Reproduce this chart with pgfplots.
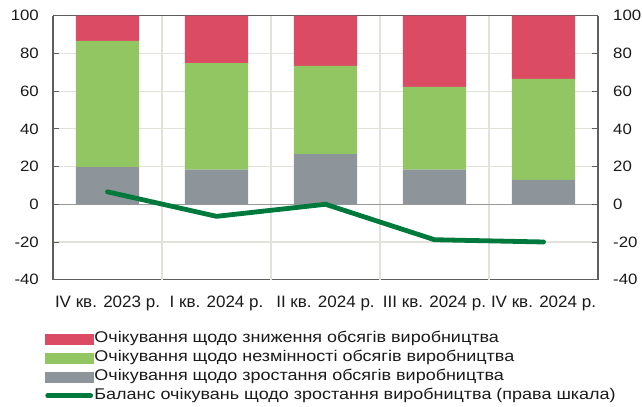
\documentclass[border=0pt]{standalone}
\usepackage{fontspec}
\setmainfont{Liberation Sans}
\newfontfamily\ytfont{Liberation Sans}[FakeStretch=1.12]
\newfontfamily\xtfont{Liberation Sans}[FakeStretch=1.03]
\newfontfamily\legfont{Liberation Sans}[FakeStretch=1.16]
\usepackage{pgfplots}
\pgfplotsset{compat=1.18}
\definecolor{cred}{HTML}{DC4B64}
\definecolor{cgreen}{HTML}{92C663}
\definecolor{cgray}{HTML}{8D959B}
\definecolor{cline}{HTML}{00793D}
\definecolor{cgrid}{HTML}{E2E2DA}
\definecolor{cframe}{HTML}{5E5E5E}
\definecolor{ctext}{HTML}{1A1A1A}
\begin{document}
\begin{tikzpicture}
\pgfplotsset{
  common/.style={
    scale only axis, width=545pt, height=264pt,
    at={(0,0)}, anchor=south west,
    xmin=-0.5, xmax=4.5, ymin=-40, ymax=100,
    ytick={-40,-20,...,100},
    yticklabel style={font=\ytfont\fontsize{15}{18}\selectfont, text=ctext, inner sep=0pt},
    /pgf/number format/assume math mode=true,
    axis line style={cframe, line width=1.3pt},
    major tick length=6pt,
    ytick style={cframe, line width=0.9pt},
  }
}
\begin{axis}[
  common,
  axis y line*=left,
  yticklabel style={anchor=east, xshift=-14pt},
  xtick={0,...,4},
  xticklabels={IV кв. 2023 р., I кв. 2024 р., II кв. 2024 р., III кв. 2024 р., IV кв. 2024 р.},
  major x tick style={draw=none},
  xticklabel style={font=\xtfont\fontsize{16.5}{18}\selectfont, text=ctext, anchor=north, inner sep=0pt, yshift=-16pt},
  extra x ticks={0.5,1.5,2.5,3.5},
  extra x tick labels={},
  extra x tick style={grid=major, major tick length=0pt},
  ymajorgrids,
  major grid style={cgrid, line width=1.2pt},
  extra y ticks={0},
  extra y tick labels={},
  extra y tick style={grid=major, major grid style={draw=gray!80, line width=1.2pt}},
  ybar stacked, bar width=0.58,
  legend style={draw=none, fill=none, at={(0,0)}, anchor=north west,
    xshift=-8pt, yshift=-50pt, inner sep=0pt, outer sep=0pt,
    font=\legfont\fontsize{15.5}{18}\selectfont, text=ctext,
    nodes={inner sep=1pt, text height=12pt, text depth=4pt},
    row sep=1pt, legend cell align=left},
]
\addlegendimage{legend image code/.code={\fill[cred] (0pt,-5pt) rectangle (48pt,5pt);}}
\addlegendentry{Очікування щодо зниження обсягів виробництва}
\addlegendimage{legend image code/.code={\fill[cgreen] (0pt,-5pt) rectangle (48pt,5pt);}}
\addlegendentry{Очікування щодо незмінності обсягів виробництва}
\addlegendimage{legend image code/.code={\fill[cgray] (0pt,-5pt) rectangle (48pt,5pt);}}
\addlegendentry{Очікування щодо зростання обсягів виробництва}
\addlegendimage{legend image code/.code={\draw[cline, line width=4.8pt, line cap=round] (2.5pt,0pt) -- (45.5pt,0pt);}}
\addlegendentry{Баланс очікувань щодо зростання виробництва (права шкала)}

\addplot[fill=cgray, draw=none, forget plot] coordinates {(0,19.7) (1,18.4) (2,26.6) (3,18.4) (4,13.0)};
\addplot[fill=cgreen, draw=none, forget plot] coordinates {(0,66.9) (1,56.5) (2,46.8) (3,43.8) (4,53.5)};
\addplot[fill=cred, draw=none, forget plot] coordinates {(0,13.4) (1,25.1) (2,26.6) (3,37.8) (4,33.5)};
\end{axis}
\begin{axis}[
  common,
  axis y line*=right,
  axis x line=none,
  yticklabel style={anchor=west, xshift=15pt},
]
\addplot[cline, line width=4.8pt, line cap=round, line join=round] coordinates {(0,6.6) (1,-6.4) (2,0) (3,-18.8) (4,-20.0)};
\end{axis}
\pgfresetboundingbox
\path[use as bounding box] (-53pt,-127pt) rectangle (589pt,279.7pt);
\end{tikzpicture}
\end{document}
